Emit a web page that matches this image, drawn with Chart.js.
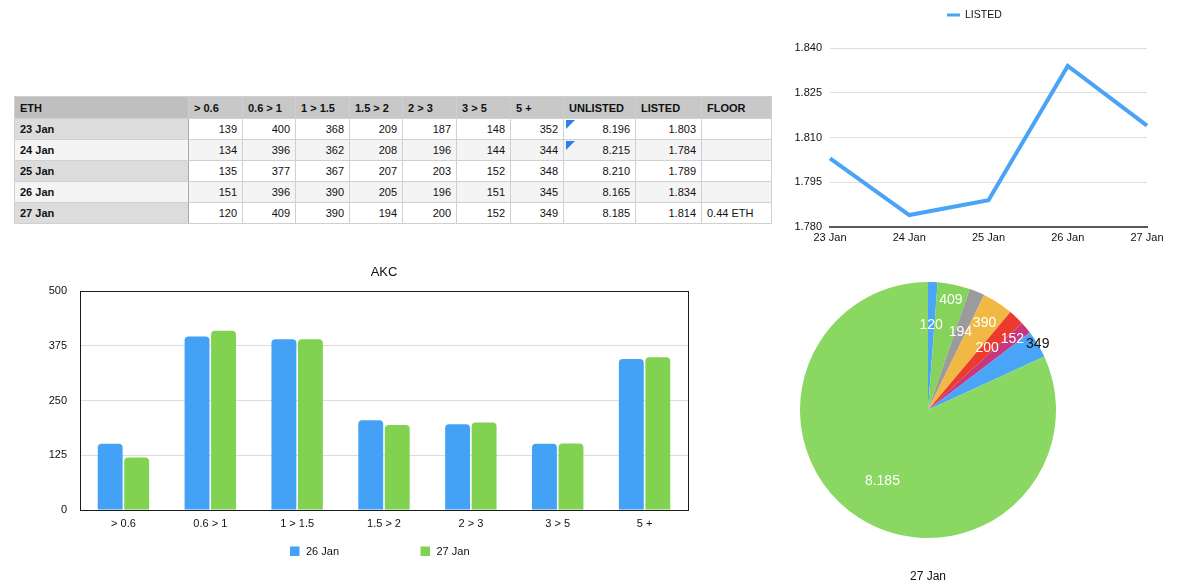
<!DOCTYPE html>
<html>
<head>
<meta charset="utf-8">
<script src="https://cdn.jsdelivr.net/npm/chart.js@4.4.1/dist/chart.umd.min.js"></script>
<style>
body { margin:0; width:1200px; height:585px; background:#fff; position:relative; overflow:hidden;
  font-family:"Liberation Sans", Arial, Helvetica, sans-serif; }
#tbl { position:absolute; left:14px; top:96px; border-collapse:collapse; table-layout:fixed; font-size:11px; color:#111; }
#tbl td, #tbl th { border:1px solid #d0d0d0; padding:0 5px; white-space:nowrap; position:relative; }
#tbl th { background:#c8c8c8; font-weight:bold; text-align:left; height:21px; }
#tbl th.corner { background:#bfbfbf; }
#tbl td { text-align:right; height:20px; background:#fff; }
#tbl tr.alt td { background:#f4f4f4; }
#tbl td.rowhead { background:#dcdcdc; font-weight:bold; text-align:left; border-right:1px solid #a8a8a8; }
#tbl td.floor { text-align:left; }
.flag { position:absolute; left:2px; top:1px; width:0; height:0; border-top:9px solid #2a7ef0; border-right:9px solid transparent; }
canvas { position:absolute; }
#line { left:780px; top:0px; }
#bar { left:0px; top:258px; }
#pie { left:788px; top:268px; }
</style>
</head>
<body>
<table id="tbl"></table>
<canvas id="line" width="420" height="250"></canvas>
<canvas id="bar" width="700" height="312"></canvas>
<canvas id="pie" width="280" height="317"></canvas>
<script>
// data
const dates = ['23 Jan', '24 Jan', '25 Jan', '26 Jan', '27 Jan'];
const buckets = ['> 0.6', '0.6 > 1', '1 > 1.5', '1.5 > 2', '2 > 3', '3 > 5', '5 +'];
const jan23 = [139, 400, 368, 209, 187, 148, 352];
const jan24 = [134, 396, 362, 208, 196, 144, 344];
const jan25 = [135, 377, 367, 207, 203, 152, 348];
const jan26 = [151, 396, 390, 205, 196, 151, 345];
const jan27 = [120, 409, 390, 194, 200, 152, 349];
const unlisted = [8196, 8215, 8210, 8165, 8185];
const listed = [1803, 1784, 1789, 1834, 1814];
const floor = ['', '', '', '', '0.44 ETH'];
const flagged = [true, true, false, false, false];

// pie slices in the order they are drawn (clockwise from top)
const pieValues = [120, 409, 194, 390, 200, 152, 349, 8185];
const pieColors = ['#4aa4f7', '#86d35c', '#9b9b9b', '#f2b844', '#ec3b2d', '#c8377b', '#4aa4f7', '#8ad761'];

const FONT = '"Liberation Sans", Arial, Helvetica, sans-serif';
Chart.defaults.font.family = FONT;
Chart.defaults.color = '#222';
Chart.defaults.animation = false;

// 8196 -> "8.196"
function fmtDot(v) {
  const s = String(Math.round(v));
  return s.length > 3 ? s.slice(0, -3) + '.' + s.slice(-3) : s;
}

// ---- table ----
const tbl = document.getElementById('tbl');
const widths = [174, 54, 53, 54, 53, 54, 54, 53, 72, 66, 70];
let html = '<colgroup>' + widths.map(w => '<col style="width:' + w + 'px">').join('') + '</colgroup>';
html += '<tr><th class="corner">ETH</th>' + buckets.map(b => '<th>' + b + '</th>').join('') +
  '<th>UNLISTED</th><th>LISTED</th><th>FLOOR</th></tr>';
const rows = [jan23, jan24, jan25, jan26, jan27];
rows.forEach((r, i) => {
  html += '<tr' + (i % 2 ? ' class="alt"' : '') + '><td class="rowhead">' + dates[i] + '</td>';
  html += r.map(v => '<td>' + v + '</td>').join('');
  html += '<td>' + (flagged[i] ? '<span class="flag"></span>' : '') + fmtDot(unlisted[i]) + '</td>';
  html += '<td>' + fmtDot(listed[i]) + '</td>';
  html += '<td class="floor">' + floor[i] + '</td></tr>';
});
tbl.innerHTML = html;

// small plugin: centred title + hand placed legend entries
const overlay = {
  id: 'overlay',
  afterDraw(chart, args, opts) {
    const ctx = chart.ctx;
    const a = chart.chartArea;
    ctx.save();
    ctx.textBaseline = 'middle';
    if (opts.title) {
      ctx.fillStyle = '#111';
      ctx.font = opts.titleSize + 'px ' + FONT;
      ctx.textAlign = 'center';
      ctx.fillText(opts.title, (a.left + a.right) / 2, opts.titleY);
    }
    if (opts.frame) {
      ctx.strokeStyle = '#1a1a1a';
      ctx.lineWidth = 1;
      ctx.strokeRect(Math.round(a.left) + 0.5, Math.round(a.top) + 0.5,
        Math.round(a.right - a.left), Math.round(a.bottom - a.top));
    }
    if (opts.legendX) {
      ctx.font = opts.legendSize + 'px ' + FONT;
      ctx.textAlign = 'left';
      chart.data.datasets.forEach((ds, i) => {
        const x = opts.legendX[i], y = opts.legendY;
        if (opts.lineSwatch) {
          ctx.strokeStyle = ds.borderColor;
          ctx.lineWidth = 3;
          ctx.beginPath(); ctx.moveTo(x, y); ctx.lineTo(x + 13, y); ctx.stroke();
          ctx.fillStyle = '#111';
          ctx.fillText(ds.label, x + 18, y + 0.5);
        } else {
          ctx.fillStyle = ds.backgroundColor;
          ctx.fillRect(x, y - 4.5, 9.5, 9.5);
          ctx.fillStyle = '#111';
          ctx.fillText(ds.label, x + 16, y + 0.5);
        }
      });
    }
    ctx.restore();
  }
};

// ---- line chart ----
new Chart(document.getElementById('line'), {
  type: 'line',
  data: {
    labels: dates,
    datasets: [{
      label: 'LISTED',
      data: listed,
      borderColor: '#49a3f6',
      borderWidth: 4,
      pointRadius: 0,
      tension: 0
    }]
  },
  options: {
    responsive: false,
    layout: { padding: { top: 48, right: 53, left: 0, bottom: 0 } },
    plugins: {
      legend: { display: false },
      tooltip: { enabled: false },
      overlay: { legendX: [167], legendY: 15, legendSize: 10.5, lineSwatch: true }
    },
    scales: {
      x: {
        offset: false,
        grid: { display: false, drawTicks: false },
        border: { color: '#5a5a5a', width: 2 },
        ticks: { font: { size: 11 }, padding: 4, maxRotation: 0, color: '#111' },
        afterFit: s => { s.height = 23; }
      },
      y: {
        min: 1780, max: 1840,
        grid: { color: '#dedede', drawTicks: false },
        border: { display: false },
        ticks: { stepSize: 15, font: { size: 11 }, padding: 8, color: '#111', callback: v => fmtDot(v) },
        afterFit: s => { s.width = 50; }
      }
    }
  },
  plugins: [overlay]
});

// ---- bar chart ----
new Chart(document.getElementById('bar'), {
  type: 'bar',
  data: {
    labels: buckets,
    datasets: [
      { label: '26 Jan', data: jan26, backgroundColor: '#43a2f6' },
      { label: '27 Jan', data: jan27, backgroundColor: '#80d250' }
    ]
  },
  options: {
    responsive: false,
    categoryPercentage: 0.61,
    barPercentage: 0.94,
    borderRadius: { topLeft: 4, topRight: 4, bottomLeft: 0, bottomRight: 0 },
    borderSkipped: 'start',
    layout: { padding: { top: 33, right: 12, left: 0, bottom: 30 } },
    plugins: {
      legend: { display: false },
      tooltip: { enabled: false },
      overlay: { title: 'AKC', titleY: 14, titleSize: 13, frame: true,
        legendX: [290, 420.5], legendY: 293, legendSize: 11 }
    },
    scales: {
      x: {
        grid: { display: false, drawTicks: false },
        border: { display: false },
        ticks: { font: { size: 11 }, padding: 7, color: '#111' },
        afterFit: s => { s.height = 30; }
      },
      y: {
        min: 0, max: 500,
        grid: { color: '#dcdcdc', drawTicks: false },
        border: { display: false },
        ticks: { stepSize: 125, font: { size: 11 }, padding: 13, color: '#111' },
        afterFit: s => { s.width = 80; }
      }
    }
  },
  plugins: [overlay]
});

// ---- pie chart ----
const pieLabelRadius = [0.66, 0.88, 0.66, 0.81, 0.67, 0.86, 1.0, 0.66];
const pieLabelColor = ['#fff', '#fff', '#fff', '#fff', '#fff', '#fff', '#111', '#fff'];
const pieLabels = {
  id: 'pieLabels',
  afterDatasetsDraw(chart) {
    const ctx = chart.ctx;
    const meta = chart.getDatasetMeta(0);
    ctx.save();
    ctx.font = '14px ' + FONT;
    ctx.textAlign = 'center';
    ctx.textBaseline = 'middle';
    meta.data.forEach((arc, i) => {
      const mid = (arc.startAngle + arc.endAngle) / 2;
      const r = arc.outerRadius * pieLabelRadius[i];
      ctx.fillStyle = pieLabelColor[i];
      ctx.fillText(fmtDot(chart.data.datasets[0].data[i]), arc.x + Math.cos(mid) * r, arc.y + Math.sin(mid) * r);
    });
    ctx.restore();
  }
};
new Chart(document.getElementById('pie'), {
  type: 'pie',
  data: {
    labels: pieValues.map(fmtDot),
    datasets: [{ label: '27 Jan', data: pieValues, backgroundColor: pieColors, borderWidth: 0 }]
  },
  options: {
    responsive: false,
    layout: { padding: { top: 14, right: 12, left: 12, bottom: 47 } },
    plugins: {
      legend: { display: false },
      tooltip: { enabled: false },
      overlay: { title: '27 Jan', titleY: 309, titleSize: 12 }
    }
  },
  plugins: [pieLabels, overlay]
});
</script>
</body>
</html>
